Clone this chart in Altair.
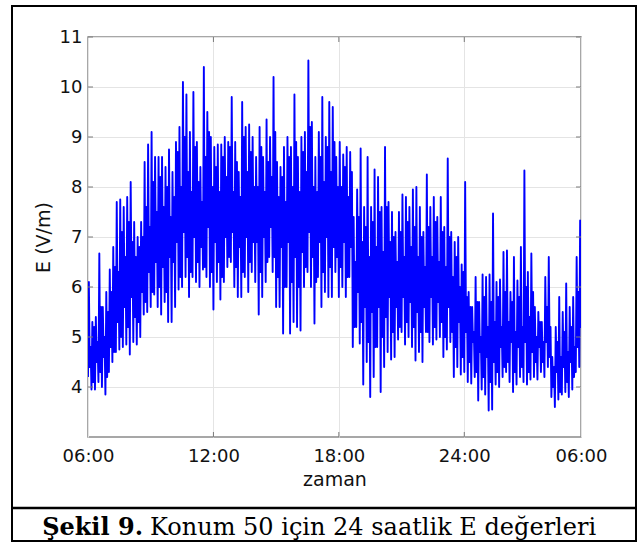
import altair as alt
import pandas as pd

# ---- data (10-minute steps from 06:00) ----
step_minutes = 10
# lower spike tips
e_low = [4.2, 3.95, 3.95, 4.1, 4.0, 3.85, 4.3, 4.5, 4.7, 4.75, 4.8, 4.85, 4.65, 4.9, 4.85, 5.0, 5.45, 5.5, 5.6, 5.85, 5.6, 5.45, 5.7, 5.3,
         5.3, 5.6, 5.95, 6.0, 6.2, 5.8, 6.2, 6.1, 6.0, 6.35, 6.2, 6.0, 5.55, 6.1, 5.75, 6.1, 6.4, 6.5, 6.0, 5.8, 5.8, 6.2, 5.9, 6.3,
         6.1, 5.45, 5.8, 6.1, 6.6, 6.3, 5.6, 5.6, 5.07, 6.0, 5.07, 5.3, 5.2, 5.13, 6.0, 6.3, 6.0, 5.27, 6.2, 5.6, 5.9, 5.8, 5.8, 6.3,
         5.8, 6.0, 5.8, 6.2, 4.8, 5.2, 4.87, 4.05, 4.5, 3.8, 4.2, 4.8, 3.9, 4.4, 4.7, 4.55, 4.6, 4.95, 5.1, 4.85, 5.0, 4.8, 4.53, 4.7,
         4.5, 5.1, 4.9, 4.85, 4.95, 5.0, 4.6, 4.75, 4.9, 4.2, 4.4, 4.25, 4.3, 4.1, 4.07, 4.2, 3.73, 3.95, 3.85, 3.53, 3.55, 4.05, 4.0, 4.2,
         4.3, 4.1, 3.9, 4.05, 4.2, 4.1, 4.05, 4.15, 4.2, 4.15, 4.3, 4.2, 4.4, 3.8, 3.6, 3.75, 3.85, 3.9, 3.8, 3.95, 4.3, 4.4]
# upper spike tips
e_high = [6.1, 5.3, 5.4, 6.67, 5.6, 5.9, 6.35, 6.8, 7.7, 7.75, 7.6, 7.8, 8.1, 7.3, 7.0, 7.3, 8.5, 8.85, 9.1, 8.6, 8.6, 8.6, 8.4, 8.75,
          8.3, 8.9, 9.2, 10.1, 9.85, 9.1, 9.9, 8.9, 8.4, 10.4, 9.5, 9.0, 8.8, 8.85, 8.85, 9.0, 8.9, 9.8, 8.9, 8.3, 9.7, 9.2, 9.25, 9.0,
          8.6, 9.2, 8.6, 9.35, 9.0, 10.2, 8.5, 8.4, 8.8, 9.0, 8.8, 9.85, 8.6, 9.0, 9.1, 10.53, 9.3, 8.6, 9.1, 9.8, 9.0, 9.7, 9.6, 8.6,
          8.9, 8.65, 8.8, 8.7, 7.4, 7.95, 8.77, 7.6, 8.6, 7.6, 8.35, 8.2, 7.6, 8.8, 7.7, 7.5, 7.1, 7.5, 7.85, 7.8, 7.6, 7.95, 8.0, 7.6,
          7.1, 8.25, 7.6, 7.8, 7.4, 7.8, 7.2, 8.57, 7.1, 6.9, 7.0, 6.45, 8.1, 5.9, 5.6, 6.2, 5.7, 6.25, 6.2, 6.25, 7.47, 6.1, 6.15, 6.7,
          6.73, 5.9, 6.6, 6.13, 6.8, 8.33, 6.3, 6.67, 5.6, 5.5, 5.3, 6.2, 6.6, 4.6, 5.2, 5.8, 5.5, 6.07, 5.6, 5.8, 6.6, 7.33]
# secondary (inner) low readings inside the dense band
e_mid_low = [4.4, 4.1, 4.5, 4.3, 4.6, 4.2, 4.8, 4.7, 5.3, 5.0, 5.6, 5.2, 5.8, 5.4, 5.3, 5.9, 5.7, 6.3, 5.9, 6.5, 6.0, 6.4, 5.9, 6.6,
             6.5, 6.9, 6.2, 7.1, 6.6, 6.3, 7.0, 6.5, 6.8, 6.4, 7.2, 6.3, 6.9, 6.5, 6.2, 7.0, 6.6, 7.1, 6.4, 6.8, 6.3, 7.0, 6.5, 6.9,
             6.9, 6.3, 7.0, 6.5, 7.2, 6.6, 6.2, 6.8, 6.0, 6.9, 6.1, 6.6, 6.0, 6.7, 6.4, 7.1, 6.6, 6.1, 6.9, 6.3, 7.0, 6.4, 6.8, 6.6,
             6.4, 6.9, 6.2, 6.8, 5.2, 5.9, 5.3, 5.6, 4.9, 5.5, 4.8, 5.6, 5.0, 5.4, 5.8, 5.1, 5.6, 5.2, 5.8, 5.3, 5.7, 5.2, 5.5, 5.1,
             5.6, 5.1, 5.8, 5.2, 5.7, 5.3, 5.0, 5.6, 5.1, 4.8, 5.3, 4.6, 5.1, 4.5, 4.9, 4.3, 4.7, 4.2, 4.6, 4.1, 4.5, 4.3, 4.8, 4.4,
             4.5, 4.9, 4.3, 4.8, 4.4, 4.9, 4.3, 4.7, 4.5, 4.8, 4.5, 4.9, 4.6, 4.0, 4.3, 3.9, 4.4, 4.1, 4.5, 4.2, 4.8, 5.2]
# secondary (inner) high readings inside the dense band
e_mid_high = [4.8, 5.2, 4.9, 5.6, 5.0, 5.5, 5.9, 6.4, 6.3, 7.1, 6.6, 7.3, 6.9, 6.6, 6.8, 7.0, 7.6, 7.2, 8.1, 7.5, 8.2, 7.6, 8.0, 7.4,
              7.8, 8.7, 8.0, 9.0, 8.3, 7.9, 8.8, 8.1, 7.7, 8.6, 9.1, 8.0, 8.4, 7.9, 8.6, 8.2, 8.8, 7.9, 8.5, 7.8, 9.0, 8.3, 8.7, 8.0,
              8.0, 8.8, 7.9, 8.5, 8.2, 9.1, 7.8, 8.2, 7.7, 8.6, 8.0, 8.9, 7.9, 8.7, 8.3, 9.2, 8.0, 7.9, 8.6, 8.1, 8.8, 8.3, 8.9, 8.0,
              8.0, 8.4, 7.8, 8.3, 6.5, 7.4, 6.9, 7.2, 6.6, 7.3, 6.8, 7.5, 6.7, 7.6, 6.9, 7.0, 6.5, 7.1, 6.6, 7.3, 6.8, 7.2, 6.6, 7.0,
              6.4, 7.2, 6.6, 7.3, 6.5, 7.1, 6.4, 7.0, 6.2, 6.6, 6.0, 6.3, 5.8, 5.6, 5.1, 5.7, 5.0, 5.8, 5.2, 5.7, 5.3, 5.8, 5.2, 5.9,
              5.3, 5.7, 5.1, 5.8, 5.2, 6.0, 5.4, 5.9, 5.0, 5.3, 4.9, 5.6, 5.2, 4.4, 4.9, 4.6, 5.1, 4.7, 5.2, 4.8, 5.9, 6.4]

x_tick_hours = [0, 6, 12, 18, 23.583]
x_tick_labels = ["06:00", "12:00", "18:00", "24:00", "06:00"]
y_ticks = [4, 5, 6, 7, 8, 9, 10, 11]
x_domain = [0, 23.583]
y_domain = [3, 11]

caption_bold = "Şekil 9."
caption_rest = "Konum 50 için 24 saatlik E değerleri"

# ---- table: four readings per 10-minute step ----
rows = []
for i, vals in enumerate(zip(e_low, e_high, e_mid_low, e_mid_high)):
    for k, v in enumerate(vals):
        rows.append({"h": (i * step_minutes + k * step_minutes / 4) / 60.0, "E": v})
df = pd.DataFrame(rows)

label_expr = " : ".join(
    f"abs(datum.value - {h}) < 0.01 ? '{l}'" for h, l in zip(x_tick_hours, x_tick_labels)
) + " : ''"

W, H = 493, 400
FONT = "DejaVu Sans"

x_enc = alt.X(
    "h:Q",
    scale=alt.Scale(domain=x_domain, nice=False, zero=False),
    axis=alt.Axis(
        values=x_tick_hours, labelExpr=label_expr, title="zaman",
        grid=True, gridColor="#e4e4e4", gridWidth=1,
        ticks=False, tickSize=0, domain=False,
        labelFont=FONT, labelFontSize=18, labelColor="#111111",
        labelBaseline="alphabetic", labelPadding=24, labelFlush=False,
        titleFont=FONT, titleFontSize=19, titleFontWeight="normal", titleColor="#111111",
        titleX=W / 2, titleY=48, titleBaseline="alphabetic", titleAlign="center",
    ),
)
y_enc = alt.Y(
    "E:Q",
    scale=alt.Scale(domain=y_domain, nice=False, zero=False),
    axis=alt.Axis(
        values=y_ticks, title="E (V/m)",
        grid=True, gridColor="#e4e4e4", gridWidth=1,
        ticks=False, tickSize=0, domain=False,
        labelFont=FONT, labelFontSize=18, labelColor="#111111", labelPadding=6,
        titleFont=FONT, titleFontSize=19, titleFontWeight="normal", titleColor="#111111",
        titleX=-45, titleY=H / 2, titleAngle=270, titleAlign="center", titleBaseline="middle",
    ),
)

line = alt.Chart(df).mark_line(color="#0000ff", strokeWidth=1.9, strokeJoin="round", clip=True).encode(
    x=x_enc, y=y_enc
)

ytick_df = pd.DataFrame({"v": y_ticks})
xtick_df = pd.DataFrame({"h": x_tick_hours[1:4]})
tick_color = "#7a7a7a"
yscale = alt.Scale(domain=y_domain, nice=False, zero=False)
xscale = alt.Scale(domain=x_domain, nice=False, zero=False)

lt = alt.Chart(ytick_df).mark_rule(color=tick_color, strokeWidth=1).encode(
    y=alt.Y("v:Q", scale=yscale), x=alt.value(0), x2=alt.value(5))
rt = alt.Chart(ytick_df).mark_rule(color=tick_color, strokeWidth=1).encode(
    y=alt.Y("v:Q", scale=yscale), x=alt.value(W - 5), x2=alt.value(W))
bt = alt.Chart(xtick_df).mark_rule(color=tick_color, strokeWidth=1).encode(
    x=alt.X("h:Q", scale=xscale), y=alt.value(H - 5), y2=alt.value(H))
tt = alt.Chart(xtick_df).mark_rule(color=tick_color, strokeWidth=1).encode(
    x=alt.X("h:Q", scale=xscale), y=alt.value(0), y2=alt.value(5))

one = pd.DataFrame({"a": [0]})
border = alt.Chart(one).mark_rect(fill="transparent", stroke="black", strokeWidth=2).encode(
    x=alt.value(-76), x2=alt.value(548), y=alt.value(-31), y2=alt.value(504))
divider = alt.Chart(one).mark_rule(color="black", strokeWidth=2.5).encode(
    x=alt.value(-76), x2=alt.value(548), y=alt.value(471))
cap1 = alt.Chart(pd.DataFrame({"t": [caption_bold]})).mark_text(
    font="DejaVu Serif", fontSize=24, fontWeight="bold", align="right", baseline="alphabetic", color="black"
).encode(text="t:N", x=alt.value(55), y=alt.value(498))
cap2 = alt.Chart(pd.DataFrame({"t": [caption_rest]})).mark_text(
    font="DejaVu Serif", fontSize=24, align="left", baseline="alphabetic", color="black"
).encode(text="t:N", x=alt.value(62), y=alt.value(498))

chart = alt.layer(line, lt, rt, bt, tt, border, divider, cap1, cap2).properties(
    width=W, height=H,
    autosize=alt.AutoSizeParams(type="none"),
    padding={"left": 88, "top": 37, "right": 62, "bottom": 106},
    background="white",
).configure_view(stroke="#8a8a8a", strokeWidth=1.5)

chart.save("out.html", embed_options={"renderer": "svg", "actions": False})
